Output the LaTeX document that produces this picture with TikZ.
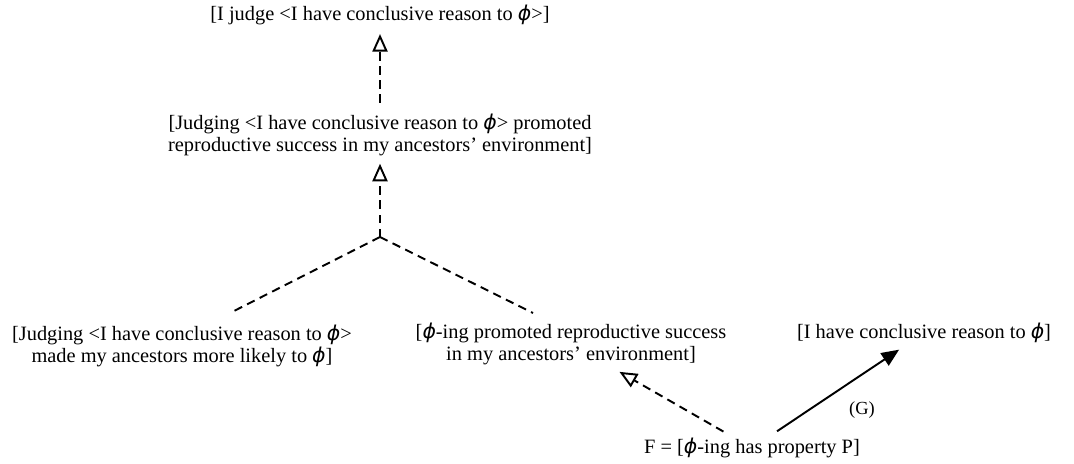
\documentclass[tikz,border=0pt]{standalone}
\usepackage{fontspec}
\setmainfont{Liberation Serif}
\newfontfamily\phifont{DejaVu Sans}
\newcommand{\phiv}{{\phifont\itshape ϕ}}
\usetikzlibrary{arrows.meta}
\tikzset{
  claim/.style={align=center, font=\fontsize{11.6}{13}\selectfont, inner sep=2pt},
  tag/.style={font=\fontsize{10.5}{12}\selectfont, inner sep=1pt},
  evline/.style={line width=1.1pt, dash pattern=on 4.8pt off 3.2pt},
  evarrow/.style={evline, -{Triangle[open, length=10pt, width=8.6pt, line width=1.1pt, sep=0pt]}},
  genarrow/.style={line width=1.1pt, -{Triangle[length=10pt, width=8.4pt]}}
}
\begin{document}
\begin{tikzpicture}[x=0.02cm, y=-0.02cm]
  \useasboundingbox (0,0) rectangle (1074,463);
  \node[claim] (judge) at (380,15) {[I judge <I have conclusive reason to \phiv>]};
  \node[claim] (promoted) at (380,135) {[Judging <I have conclusive reason to \phiv> promoted\\reproductive success in my ancestors’ environment]};
  \coordinate (fork) at (380,237);
  \coordinate (lend) at (230,313);
  \coordinate (rend) at (533,313);
  \node[claim] (likely) at (182,346) {[Judging <I have conclusive reason to \phiv>\\made my ancestors more likely to \phiv]};
  \node[claim] (phiing) at (571,344) {[\phiv-ing promoted reproductive success\\in my ancestors’ environment]};
  \node[claim] (reason) at (924,333) {[I have conclusive reason to \phiv]};
  \node[claim] (F) at (752,448) {F = [\phiv-ing has property P]};
  \node[tag] (gen) at (862,410) {(G)};

  \draw[evarrow, shorten <=4pt, shorten >=3pt] (promoted) -- (judge);
  \draw[evarrow, shorten >=2pt] (fork) -- (promoted);
  \draw[evline] (fork) -- (lend);
  \draw[evline] (fork) -- (rend);
  \draw[evarrow, shorten <=3pt, shorten >=3pt] (F) -- (phiing);
  \draw[genarrow, shorten <=3pt, shorten >=3pt] (F) -- (reason);
\end{tikzpicture}
\end{document}
